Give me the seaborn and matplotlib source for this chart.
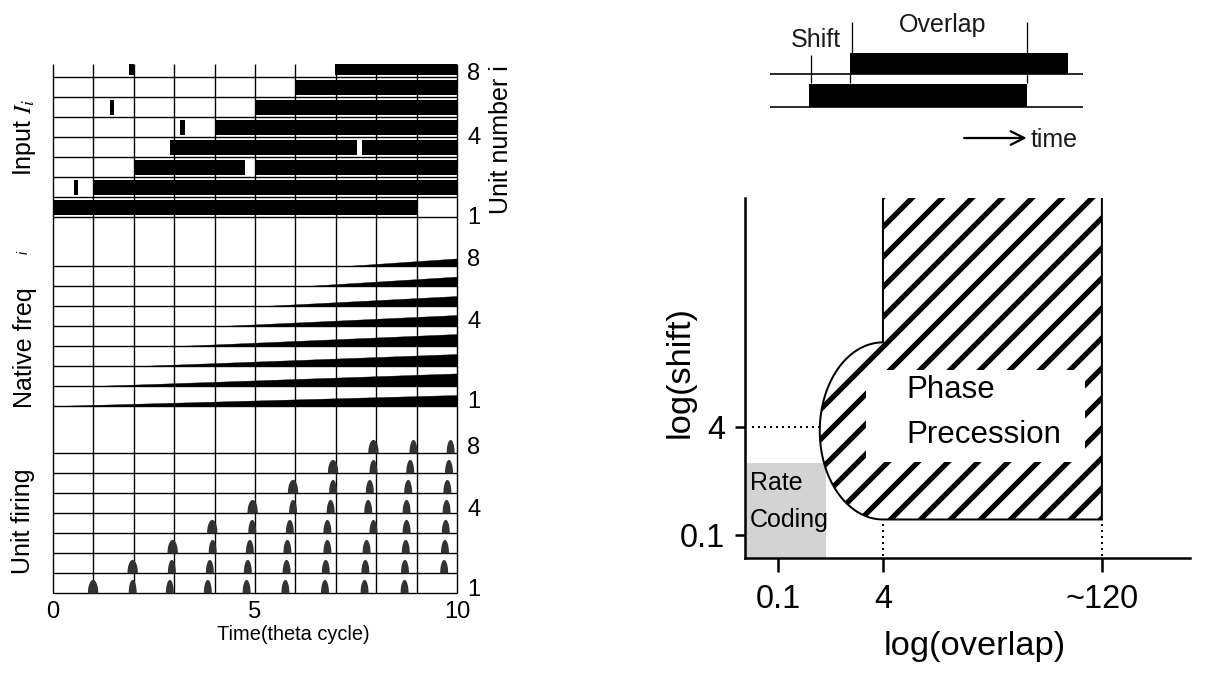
import numpy as np
import matplotlib
matplotlib.use("Agg")
import matplotlib.pyplot as plt
import seaborn as sns
from matplotlib.patches import Rectangle, PathPatch
from matplotlib.path import Path

# ---------------- data ----------------
theta_cycles = list(range(0, 11))
time_ticks = [0, 5, 10]
units = [1, 2, 3, 4, 5, 6, 7, 8]

# Input I_i : on-intervals (unit, start, end) in theta cycles
input_unit = [1, 2, 2, 3, 3, 4, 4, 5, 5, 6, 6, 7, 8, 8]
input_start = [0.0, 0.52, 1.0, 2.0, 5.0, 2.9, 7.64, 3.15, 4.0, 1.41, 5.0, 6.0, 1.89, 6.98]
input_end = [9.0, 0.63, 10.0, 4.75, 10.0, 7.52, 10.0, 3.26, 10.0, 1.51, 10.0, 10.0, 2.0, 10.0]

# Native frequency : onset cycle and final thickness (row units) per unit
freq_onset = [0.0, 1.0, 2.1, 3.1, 4.15, 5.2, 6.25, 7.25]
freq_final = [0.55, 0.63, 0.60, 0.60, 0.55, 0.50, 0.47, 0.38]

# Unit firing : spike times per unit
firing_u1 = [0.98, 1.96, 2.88, 3.82, 4.78, 5.74, 6.72, 7.70, 8.69]
firing_u2 = [1.96, 2.93, 3.87, 4.81, 5.77, 6.74, 7.72, 8.70, 9.67]
firing_u3 = [2.95, 3.94, 4.86, 5.79, 6.78, 7.75, 8.72, 9.69]
firing_u4 = [3.93, 4.92, 5.85, 6.78, 7.92, 8.74, 9.71]
firing_u5 = [4.93, 5.93, 6.86, 7.79, 8.74, 9.73]
firing_u6 = [5.93, 6.92, 7.83, 8.78, 9.75]
firing_u7 = [6.92, 7.92, 8.83, 9.79]
firing_u8 = [7.92, 8.91, 9.83]
firing_times = [firing_u1, firing_u2, firing_u3, firing_u4,
                firing_u5, firing_u6, firing_u7, firing_u8]

unit_tick_labels = ['1', '4', '8']
unit_tick_pos_input = [0.1, 4.05, 7.3]
unit_tick_pos_freq = [0.3, 4.35, 7.4]
unit_tick_pos_fire = [0.3, 4.25, 7.4]

# Schematic (shift / overlap)
sched_row = [0, 1]
sched_start = [1.25, 2.56]
sched_end = [8.21, 9.52]
sched_height = [0.70, 0.64]

# Phase diagram (schematic positions)
overlap_tick_pos = [0.74, 3.10, 8.02]
overlap_tick_labels = ['0.1', '4', '~120']
shift_tick_pos = [0.64, 3.64]
shift_tick_labels = ['0.1', '4']
rate_overlap_max = 1.82
rate_shift_max = 2.64
prec_shift_min = 1.07
bulge_center_shift = 3.53
bulge_rx = 1.42
bulge_ry = 2.46
label_box = (2.72, 7.64, 2.67, 5.22)

# ---------------- style ----------------
W, H, DPI = 1206, 673, 90
sns.set_theme(style="white")
plt.rcParams['font.family'] = ['Liberation Sans', 'DejaVu Sans']
plt.rcParams['mathtext.fontset'] = 'stix'
plt.rcParams['hatch.linewidth'] = 4.2
plt.rcParams['hatch.color'] = 'black'
for key in ['text.color', 'axes.labelcolor', 'xtick.color', 'ytick.color']:
    plt.rcParams[key] = 'black'

fig = plt.figure(figsize=(W / DPI, H / DPI), dpi=DPI)
fig.patch.set_facecolor('white')


def px_axes(x0, y0, x1, y1):
    return fig.add_axes([x0 / W, 1 - y1 / H, (x1 - x0) / W, (y1 - y0) / H])


def ftext(x, y, s, **kw):
    fig.text(x / W, 1 - y / H, s, **kw)


# ---------------- left panel ----------------
ax_in = px_axes(53, 64, 457, 217)
ax_fr = px_axes(53, 217, 457, 406)
ax_fi = px_axes(53, 406, 457, 593)
tops = [7.65, 9.45, 9.35]
tickpos = [unit_tick_pos_input, unit_tick_pos_freq, unit_tick_pos_fire]
for ax, top, tp in zip([ax_in, ax_fr, ax_fi], tops, tickpos):
    ax.set_xlim(0, 10)
    ax.set_ylim(0, top)
    ax.set_facecolor('none')
    for s in ax.spines.values():
        s.set_visible(False)
    ax.vlines(theta_cycles, 0, top, color='black', lw=1.1, zorder=1, clip_on=False)
    ax.hlines([u - 1 for u in units], 0, 10, color='black', lw=1.1, zorder=1, clip_on=False)
    ax.yaxis.tick_right()
    ax.set_yticks(tp)
    ax.set_yticklabels(unit_tick_labels, fontsize=19)
    ax.tick_params(axis='y', length=0, pad=8, right=False, left=False)
    ax.set_xticks([])

# input bars
for u, s, e in zip(input_unit, input_start, input_end):
    ax_in.barh(u - 1 + 0.1, e - s, left=s, height=0.75, align='edge',
               color='black', lw=0, zorder=2)

# native frequency wedges
for u, t0, h in zip(units, freq_onset, freq_final):
    xs = np.array([t0, 10.0])
    ax_fr.fill_between(xs, u - 1, [u - 1, u - 1 + h], color='black', lw=0.3,
                       edgecolor='black', zorder=2)

# unit firing spikes
for u, times in zip(units, firing_times):
    for k, tc in enumerate(times):
        w = 0.13 if k == 0 else 0.1
        xs = np.linspace(tc - w, tc + w, 41)
        ys = (u - 1) + 0.68 * np.sqrt(np.clip(1 - ((xs - tc) / w) ** 2, 0, 1))
        ax_fi.fill_between(xs, u - 1, ys, color='#333333', lw=0, zorder=3)

ax_fi.set_xticks(time_ticks)
ax_fi.set_xticklabels([str(t) for t in time_ticks], fontsize=19)
ax_fi.tick_params(axis='x', length=0, pad=6, bottom=False)

ftext(24, 137, r'Input $I_i$', rotation=90, ha='center', va='center', fontsize=20)
ftext(25, 348, 'Native freq', rotation=90, ha='center', va='center', fontsize=20)
ftext(24, 252, 'i', rotation=90, ha='center', va='center', fontsize=11, style='italic')
ftext(23, 521, 'Unit firing', rotation=90, ha='center', va='center', fontsize=20)
ftext(501, 140, 'Unit number i', rotation=90, ha='center', va='center', fontsize=20)
ftext(293, 635, 'Time(theta cycle)', ha='center', va='center', fontsize=16)

# ---------------- right top schematic ----------------
ax_s = px_axes(740, 0, 1110, 160)
ax_s.set_xlim(-0.958, 10.86)
ax_s.set_ylim(-1.606, 3.242)
ax_s.axis('off')
ax_s.hlines(sched_row, 0, 10, color='black', lw=1.3)
for r, s, e, h in zip(sched_row, sched_start, sched_end, sched_height):
    ax_s.add_patch(Rectangle((s, r), e - s, h, facecolor='black', edgecolor='none'))
ax_s.vlines(sched_start[0] + 0.06, 0.73, 1.58, color='black', lw=1.0)
ax_s.vlines(sched_start[1], 0.73, 1.0, color='black', lw=1.0)
ax_s.vlines(sched_start[1] + 0.06, 1.64, 2.58, color='black', lw=1.0)
ax_s.vlines(sched_end[0], 0.73, 2.58, color='black', lw=1.0)
ax_s.text(1.47, 2.03, 'Shift', ha='center', va='center', fontsize=20, color='#1a1a1a')
ax_s.text(5.5, 2.48, 'Overlap', ha='center', va='center', fontsize=20, color='#1a1a1a')
ax_s.annotate('', xy=(8.2, -0.94), xytext=(6.2, -0.94),
              arrowprops=dict(arrowstyle='->,head_length=0.9,head_width=0.45',
                              color='black', lw=1.8, shrinkA=0, shrinkB=0))
ax_s.text(8.34, -1.0, 'time', ha='left', va='center', fontsize=20, color='#1a1a1a')

# ---------------- right phase diagram ----------------
ax_r = px_axes(745, 198, 1190, 558)
ax_r.set_xlim(0, 10)
ax_r.set_ylim(0, 10)
ax_r.set_facecolor('none')
sns.despine(ax=ax_r)
for side in ['left', 'bottom']:
    ax_r.spines[side].set_linewidth(2.0)
    ax_r.spines[side].set_color('black')

# rate coding region
ax_r.add_patch(Rectangle((0, 0), rate_overlap_max, rate_shift_max,
                         facecolor='#d3d3d3', edgecolor='none', zorder=1))

# phase precession region (rectangle + half-ellipse bulge)
xl, xr = overlap_tick_pos[1], overlap_tick_pos[2]
theta = np.linspace(np.pi / 2, 3 * np.pi / 2, 80)
bx = xl + bulge_rx * np.cos(theta)
by = bulge_center_shift + bulge_ry * np.sin(theta)
outline_x = np.concatenate([[xl], bx, [xr, xr]])
outline_y = np.concatenate([[10.5], by, [prec_shift_min, 10.5]])
verts = np.column_stack([outline_x, outline_y])
path = Path(np.vstack([verts, verts[:1]]))
ax_r.add_patch(PathPatch(path, facecolor='white', edgecolor='black', lw=0,
                         hatch='/', zorder=2))
bx0, bx1, by0, by1 = label_box
ax_r.add_patch(Rectangle((bx0, by0), bx1 - bx0, by1 - by0,
                         facecolor='white', edgecolor='none', zorder=3))
ax_r.plot(outline_x, outline_y, color='black', lw=1.6, zorder=4,
          solid_joinstyle='miter')

# dotted guides
dot = (0, (1, 2))
ax_r.plot([0.16, xl - bulge_rx], [shift_tick_pos[1]] * 2, color='black', lw=1.6,
          linestyle=dot, zorder=4)
for xv in [xl, xr]:
    ax_r.plot([xv, xv], [0.06, 1.0], color='black', lw=1.6, linestyle=dot, zorder=4)

ax_r.text(3.62, 4.67, 'Phase', ha='left', va='center', fontsize=25, zorder=5)
ax_r.text(3.62, 3.42, 'Precession', ha='left', va='center', fontsize=25, zorder=5)
ax_r.text(0.11, 2.08, 'Rate', ha='left', va='center', fontsize=20, zorder=5)
ax_r.text(0.11, 1.06, 'Coding', ha='left', va='center', fontsize=20, zorder=5)

ax_r.set_xticks(overlap_tick_pos)
ax_r.set_xticklabels(overlap_tick_labels, fontsize=26)
ax_r.set_yticks(shift_tick_pos)
ax_r.set_yticklabels(shift_tick_labels, fontsize=26)
ax_r.tick_params(axis='x', length=11, width=2, direction='out', pad=10, bottom=True, color='black')
ax_r.tick_params(axis='y', length=8, width=2, direction='out', pad=8, left=True, color='black')
ax_r.set_xlabel('log(overlap)', fontsize=27.5)
ax_r.set_ylabel('log(shift)', fontsize=27.5)
ax_r.xaxis.set_label_coords((975 - 745) / 445, (558 - 646) / 360)
ax_r.xaxis.label.set_va('center')
ax_r.yaxis.set_label_coords((680 - 745) / 445, (558 - 372) / 360)
ax_r.yaxis.label.set_va('center')

fig.savefig('out.png', dpi=DPI, facecolor='white')
